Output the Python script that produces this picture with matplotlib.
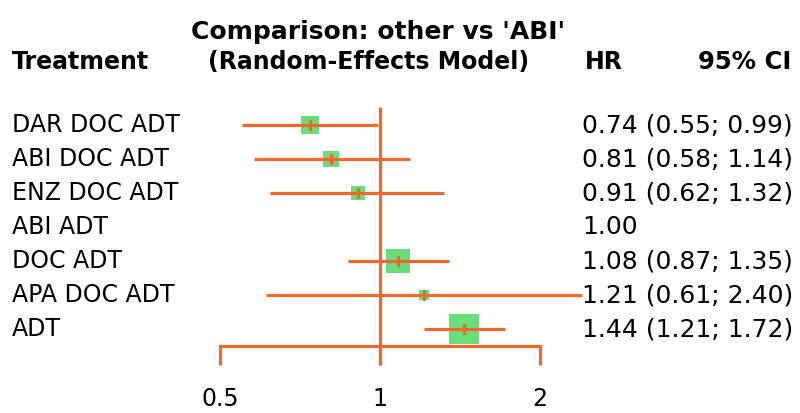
import matplotlib
matplotlib.use("Agg")
import matplotlib.pyplot as plt
import numpy as np

treatments = ["DAR DOC ADT", "ABI DOC ADT", "ENZ DOC ADT", "ABI ADT",
              "DOC ADT", "APA DOC ADT", "ADT"]
hr = [0.74, 0.81, 0.91, 1.00, 1.08, 1.21, 1.44]
lower = [0.55, 0.58, 0.62, None, 0.87, 0.61, 1.21]
upper = [0.99, 1.14, 1.32, None, 1.35, 2.40, 1.72]
ticks = [0.5, 1, 2]
tick_labels = ["0.5", "1", "2"]

orange = "#ED6A2C"
green = "#69DD7A"

W, H = 800, 413
fig = plt.figure(figsize=(W / 100, H / 100), dpi=100)

# axes placed in pixels: x from 200 to 582, y from 100 to 370
left, right, top, bottom = 200, 582, 100, 370
ax = fig.add_axes([left / W, 1 - bottom / H, (right - left) / W, (bottom - top) / H])
ax.set_xscale("log", base=2)
ax.set_xlim(2 ** ((left - 380) / 160), 2 ** ((right - 380) / 160))
row_px = 34.0
ax.set_ylim((bottom - 125) / row_px, (top - 125) / row_px)
ax.axis("off")

n = len(treatments)
ypos = np.arange(n)

# reference line at 1
ax.plot([1, 1], [-0.53, 7.06], color=orange, lw=2.3, solid_capstyle="butt", zorder=2)

for i in range(n):
    if lower[i] is None:
        continue
    # square side ~ 1/se (inverse-variance weight)
    se = (np.log(upper[i]) - np.log(lower[i])) / (2 * 1.96)
    size_px = max(2.75 / se, 10)
    ax.plot(hr[i], ypos[i], marker="s", ms=size_px * 0.72, color=green,
            markeredgewidth=0, zorder=3)
    ax.plot([lower[i], upper[i]], [ypos[i], ypos[i]], color=orange, lw=2.3,
            solid_capstyle="butt", zorder=4, clip_on=False)
    ax.plot([hr[i], hr[i]], [ypos[i] - 0.13, ypos[i] + 0.13], color=orange,
            lw=2.3, zorder=5)

# bottom axis
ax.plot([ticks[0], ticks[-1]], [6.5, 6.5], color=orange, lw=2.3, zorder=2)
for t, lab in zip(ticks, tick_labels):
    ax.plot([t, t], [6.5, 7.06], color=orange, lw=2.3, solid_capstyle="butt", zorder=2)
    ax.text(t, (399 - 125) / row_px, lab, ha="center", va="center",
            fontsize=17, clip_on=False)

# text columns
def fy(px):
    return 1 - px / H

hkw = dict(fontweight="bold", va="center")
fig.text(12 / W, fy(62), "Treatment", fontsize=17, **hkw)
fig.text(378 / W, fy(32), "Comparison: other vs 'ABI'", fontsize=18, ha="center", **hkw)
fig.text(369 / W, fy(62), "(Random-Effects Model)", fontsize=17, ha="center", **hkw)
fig.text(604 / W, fy(62), "HR", fontsize=17, ha="center", **hkw)
fig.text(745 / W, fy(62), "95% CI", fontsize=17.5, ha="center", **hkw)

for i in range(n):
    y = fy(125 + row_px * i)
    fig.text(12 / W, y, treatments[i], fontsize=17, va="center")
    if lower[i] is None:
        s = f"{hr[i]:.2f}"
    else:
        s = f"{hr[i]:.2f} ({lower[i]:.2f}; {upper[i]:.2f})"
    fig.text(582 / W, y, s, fontsize=18, va="center")

fig.savefig("out.png", dpi=100)
